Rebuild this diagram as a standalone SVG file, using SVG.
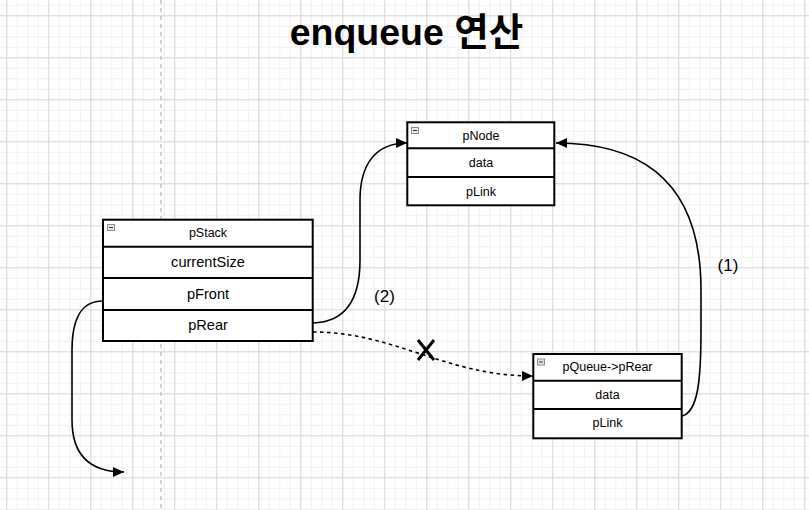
<svg xmlns="http://www.w3.org/2000/svg" width="809" height="510" viewBox="0 0 809 510">
<defs>
<pattern id="minor" patternUnits="userSpaceOnUse" x="6.3" y="15.3" width="10.5" height="10.5">
<path d="M0.5,0 V10.5 M0,0.5 H10.5" stroke="#efefef" stroke-width="1" fill="none"/>
</pattern>
<pattern id="major" patternUnits="userSpaceOnUse" x="6.3" y="15.3" width="42" height="42">
<path d="M0.5,0 V42 M0,0.5 H42" stroke="#d9d9d9" stroke-width="1" fill="none"/>
</pattern>
<marker id="arr" markerUnits="userSpaceOnUse" markerWidth="12" markerHeight="10" refX="11" refY="5" orient="auto">
<path d="M0,0 L11,5 L0,10 z" fill="#000"/>
</marker>
</defs>
<style>
.box{fill:#fff;stroke:#000;stroke-width:2}
.hd{font-family:"Liberation Sans",Arial,sans-serif;font-size:12.5px;fill:#000;text-anchor:middle;dominant-baseline:central}
.rw{font-family:"Liberation Sans",Arial,sans-serif;font-size:12.5px;fill:#000;text-anchor:middle;dominant-baseline:central}
.rwb{font-family:"Liberation Sans",Arial,sans-serif;font-size:14.6px;fill:#000;text-anchor:middle;dominant-baseline:central}
.ic{fill:#e8e8e8;stroke:#8c8c8c;stroke-width:1}
.icm{stroke:#333;stroke-width:1}
.edge{fill:none;stroke:#000;stroke-width:1.6}
.lbl{font-family:"Liberation Sans",Arial,sans-serif;font-size:17px;fill:#000;text-anchor:middle}
</style>
<rect width="809" height="510" fill="#fff"/>
<rect width="809" height="510" fill="url(#minor)"/>
<rect width="809" height="510" fill="url(#major)"/>
<line x1="161" y1="0" x2="161" y2="510" stroke="#c4c4c4" stroke-width="1.5" stroke-dasharray="4 4"/>

<text x="406.5" y="45" font-family="'Liberation Sans','Noto Sans CJK KR',Arial,sans-serif" font-size="37.5" font-weight="bold" text-anchor="middle" fill="#000">enqueue 연산</text>

<g id="pNode">
<rect class="box" x="407.3" y="122.3" width="147" height="83"/>
<line x1="407.3" y1="148.3" x2="554.3" y2="148.3" stroke="#000" stroke-width="2"/>
<line x1="407.3" y1="177" x2="554.3" y2="177" stroke="#000" stroke-width="2"/>
<rect class="ic" x="411.5" y="127.5" width="7" height="6"/>
<line class="icm" x1="413" y1="130.5" x2="417" y2="130.5"/>
<text class="hd" x="481" y="135.5">pNode</text>
<text class="rw" x="481" y="163">data</text>
<text class="rw" x="481" y="191.5">pLink</text>
</g>

<g id="pStack">
<rect class="box" x="103" y="219.7" width="209.7" height="121.3"/>
<line x1="103" y1="246.7" x2="312.7" y2="246.7" stroke="#000" stroke-width="2"/>
<line x1="103" y1="278" x2="312.7" y2="278" stroke="#000" stroke-width="2"/>
<line x1="103" y1="310" x2="312.7" y2="310" stroke="#000" stroke-width="2"/>
<rect class="ic" x="107.5" y="224.5" width="7" height="6"/>
<line class="icm" x1="109" y1="227.5" x2="113" y2="227.5"/>
<text class="hd" x="208" y="233.3">pStack</text>
<text class="rwb" x="208" y="262.3">currentSize</text>
<text class="rwb" x="208" y="294.3">pFront</text>
<text class="rwb" x="208" y="325">pRear</text>
</g>

<g id="pQueueRear">
<rect class="box" x="533.3" y="354" width="148.4" height="84.3"/>
<line x1="533.3" y1="380.7" x2="681.7" y2="380.7" stroke="#000" stroke-width="2"/>
<line x1="533.3" y1="409" x2="681.7" y2="409" stroke="#000" stroke-width="2"/>
<rect class="ic" x="537.5" y="359" width="7" height="6"/>
<line class="icm" x1="539" y1="362" x2="543" y2="362"/>
<text class="hd" x="607.5" y="367.3">pQueue-&gt;pRear</text>
<text class="rw" x="607.5" y="395">data</text>
<text class="rw" x="607.5" y="423.3">pLink</text>
</g>

<g id="connectors">
<path class="edge" d="M682,416 C698,412 701,380 701,330 L701,290 C701,190 650,143 556,143" marker-end="url(#arr)"/>
<path class="edge" d="M313,323 C345,322 360,300 360,260 L360,200 C360,165 375,143 407,143" marker-end="url(#arr)"/>
<path class="edge" d="M313,332 C395,332 445,376 533,376" stroke-dasharray="3.5 3.5" stroke-width="1.8" marker-end="url(#arr)"/>
<path d="M418,340 L434,360 M434,340 L418,360" stroke="#000" stroke-width="3" fill="none"/>
<path class="edge" d="M103,301 C80,301 72,320 72,350 L72,420 C72,455 90,472 124,472" marker-end="url(#arr)"/>
<text class="lbl" x="728" y="271">(1)</text>
<text class="lbl" x="384.5" y="302">(2)</text>
</g>
</svg>
